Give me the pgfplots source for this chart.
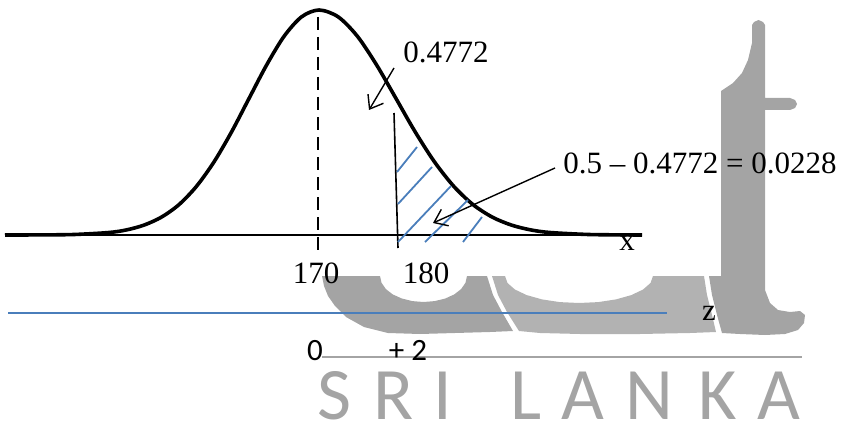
\documentclass[border=0pt]{standalone}
\usepackage{fontspec}
\setmainfont{Liberation Serif}
\newfontfamily\calibri{Carlito}
\usepackage{pgfplots}
\pgfplotsset{compat=1.18}
\usetikzlibrary{arrows.meta}
\definecolor{hatch}{HTML}{4A7EBB}
\definecolor{wm}{RGB}{164,164,164}
\definecolor{wmlight}{RGB}{178,178,178}
\begin{document}
\begin{tikzpicture}
\begin{axis}[
  at={(0,0)}, anchor=south west,
  scale only axis, width=423pt, height=212pt,
  xmin=0, xmax=846, ymin=0, ymax=424,
  hide axis, clip=false,
]
% ---- watermark (background) ----
\addplot[fill=wm, draw=none] coordinates {
 (322,148) (324,138) (328,128) (335,118) (346,107) (364,97) (388,91) (420,90) (455,91) (490,92)
 (513,93) (502,112) (493,129) (487,148) (467,148) (465.5,141.3) (461.2,135) (454.3,129.6)
 (445.3,125.5) (434.8,122.9) (423.5,122) (412.2,122.9) (401.8,125.5) (392.7,129.6)
 (385.8,135) (381.5,141.3) (380,148)};
\addplot[fill=wmlight, draw=none] coordinates {
 (492,148) (498,129) (507,112) (519,93) (540,91) (580,90) (640,90) (690,91) (716,92) (712,109)
 (707,129) (704,148) (653,148) (650.5,141) (643.1,134.5) (631.3,128.9) (616,124.6)
 (598.2,121.9) (579,121) (559.8,121.9) (542,124.6) (526.7,128.9) (514.9,134.5)
 (507.5,141) (505,148)};
\addplot[fill=wm, draw=none] coordinates {
 (752,399) (754,402) (758.5,404) (763,402) (765,399) (765,326) (790,326) (795,324)
 (797,320) (795,316) (790,314) (765,314) (765,134) (770,121) (778,114) (790,112)
 (800,113) (805,109) (804,101) (798,94) (785,90) (765,89) (740,90) (722,91) (717,109)
 (712,129) (709,148) (721,148) (721,333) (733,341) (742,351) (748,364) (752,381)};
\addplot[wm, line width=1pt] coordinates {(322,67) (802,67)};
\begin{scope}[every node/.style={anchor=base, text=wm, font=\calibri\fontsize{37}{40}\selectfont, inner sep=0pt}]
\node at (axis cs:334,5) {S};
\node at (axis cs:394,5) {R};
\node at (axis cs:443,5) {I};
\node at (axis cs:526,5) {L};
\node at (axis cs:583,5) {A};
\node at (axis cs:649,5) {N};
\node at (axis cs:718,5) {K};
\node at (axis cs:779,5) {A};
\end{scope}
% ---- chart ----
\addplot[hatch, line width=0.8pt] coordinates {(8,111) (667,111)};
\addplot[black, line width=0.8pt] coordinates {(5,189) (642,189)};
\addplot[black, line width=1.8pt, smooth] coordinates {
 (5,189.0) (39,189.1) (74,189.5) (109,191.5) (126.5,194.1) (144,198.9) (161.5,206.9)
 (179,219.4) (196.5,237.7) (214,262.1) (231.5,292.0) (249,325.5) (266.5,358.8)
 (284,387.6) (301.5,407.1) (319,414)
 (338.25,407.1) (357.5,387.6) (376.75,358.8) (396,325.5) (415.25,292.0) (434.5,262.1)
 (453.75,237.7) (473,219.4) (492.25,206.9) (511.5,198.9) (530.75,194.1) (550,191.5)
 (588.5,189.5) (627,189.1) (642,189.0)};
\addplot[black, line width=1pt, dash pattern=on 6.5pt off 3.5pt] coordinates {(318,407) (318,169)};
\addplot[black, line width=0.8pt] coordinates {(394,311) (398,176)};
\addplot[hatch, line width=0.9pt] coordinates {(397,252) (417,277)};
\addplot[hatch, line width=0.9pt] coordinates {(398,220) (432,257)};
\addplot[hatch, line width=0.9pt] coordinates {(398,182) (451,238)};
\addplot[hatch, line width=0.9pt] coordinates {(425,182) (468,224)};
\addplot[hatch, line width=0.9pt] coordinates {(463,182) (482,207)};
\addplot[black, line width=0.7pt, -{Straight Barb[length=6pt,width=9pt]}] coordinates {(394,356) (369,314)};
\addplot[black, line width=0.7pt, -{Straight Barb[length=6pt,width=9pt]}] coordinates {(555,256) (433,201)};
\begin{scope}[every node/.style={font=\fontsize{15.5}{18}\selectfont, inner sep=0pt}]
\node[anchor=base west] at (axis cs:403,361) {0.4772};
\node[anchor=base west] at (axis cs:563,251) {0.5 \textendash\ 0.4772 = 0.0228};
\node[anchor=base] at (axis cs:316,141) {170};
\node[anchor=base] at (axis cs:426,141) {180};
\node[anchor=base] at (axis cs:627,174) {x};
\node[anchor=base] at (axis cs:709,104) {z};
\node[anchor=base, font=\calibri\fontsize{15.5}{18}\selectfont] at (axis cs:315,64) {0};
\node[anchor=base, font=\calibri\fontsize{15.5}{18}\selectfont] at (axis cs:408,64) {+ 2};
\end{scope}
\end{axis}
\pgfresetboundingbox
\path (0,0) rectangle (423pt,212pt);
\end{tikzpicture}
\end{document}
